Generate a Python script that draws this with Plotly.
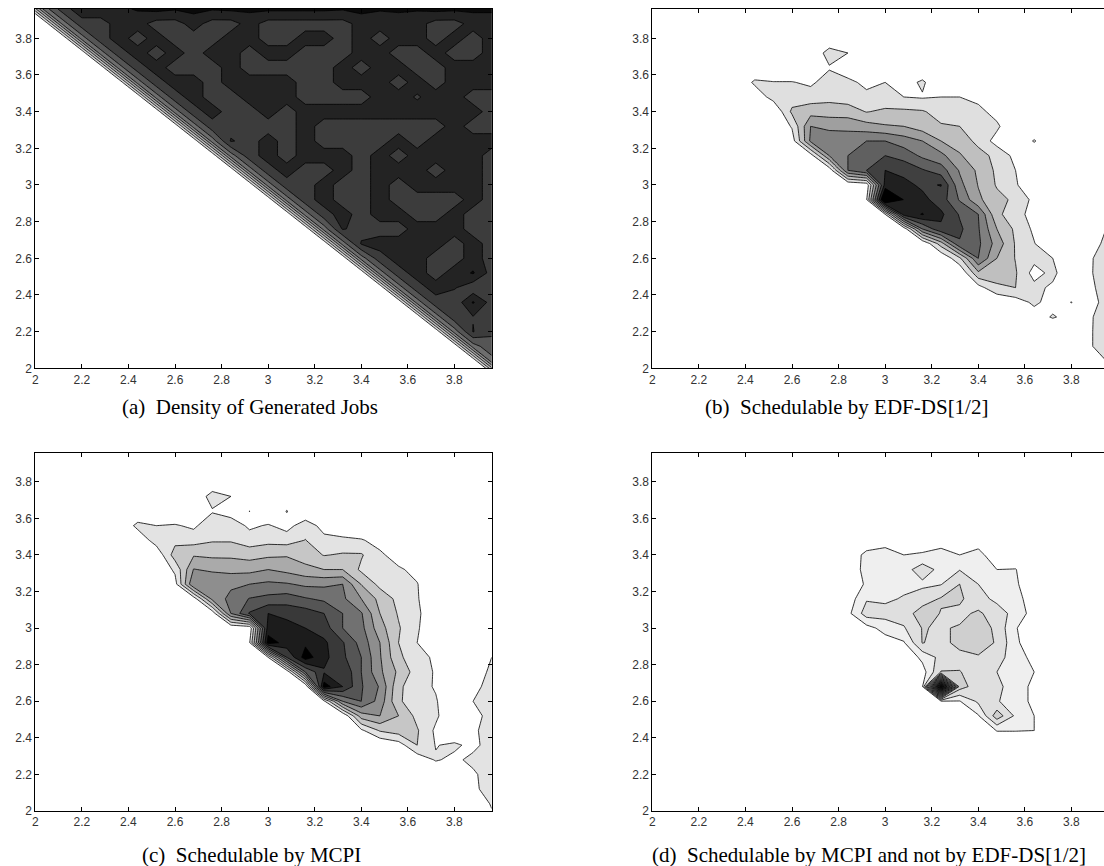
import plotly.graph_objects as go

X_GRID = [1.96, 2.04, 2.12, 2.20, 2.28, 2.36, 2.44, 2.52, 2.60, 2.68, 2.76, 2.84, 2.92,
          3.00, 3.08, 3.16, 3.24, 3.32, 3.40, 3.48, 3.56, 3.64, 3.72, 3.80, 3.88, 3.96]
Y_GRID = list(X_GRID)
TICK_VALUES = [2, 2.2, 2.4, 2.6, 2.8, 3, 3.2, 3.4, 3.6, 3.8]
TICK_LABELS = ["2", "2.2", "2.4", "2.6", "2.8", "3", "3.2", "3.4", "3.6", "3.8"]
CAPTIONS = ["(a)\u00a0 Density of Generated Jobs", "(b)\u00a0 Schedulable by EDF-DS[1/2]",
            "(c)\u00a0 Schedulable by MCPI", "(d)\u00a0 Schedulable by MCPI and not by EDF-DS[1/2]"]

M = 7.6
D = 8.4
# every table is written from y = 3.96 (first row) down to y = 1.96 (last row)
DENSITY = [
 [0,5.5,7.6,8.6,8.6,8.8,9.1,9.3,9.1,9.3,9.1,9.2,9.2,9.2,9.2,9.2,9.2,9.1,9.3,9.1,9.2,9.1,9.3,9.2,9.2,9.2],
 [0,0,5.5,M,M,D,D,M,M,D,M,M,D,M,M,M,M,M,D,D,D,D,M,M,D,D],
 [0,0,0,5.5,M,D,M,D,M,M,M,D,D,M,M,D,D,M,D,M,D,D,M,D,M,D],
 [0,0,0,0,5.5,M,D,M,D,M,D,D,M,D,D,M,M,M,D,D,M,M,D,M,M,D],
 [0,0,0,0,0,5.5,M,D,M,M,M,D,M,M,M,M,M,D,M,D,D,M,M,D,D,8.0],
 [0,0,0,0,0,0,5.5,M,D,D,M,D,D,D,D,M,M,D,D,D,M,D,M,D,D,D],
 [0,0,0,0,0,0,0,5.5,M,D,M,M,D,D,D,M,M,M,M,D,D,7.9,D,D,M,M],
 [0,0,0,0,0,0,0,0,5.5,M,D,M,M,D,M,D,D,D,D,D,D,D,D,D,D,M],
 [0,0,0,0,0,0,0,0,0,5.5,M,M,M,M,M,D,M,M,M,M,M,M,M,D,M,M],
 [0,0,0,0,0,0,0,0,0,0,5.5,8.1,M,D,M,D,M,M,M,M,D,M,D,D,D,D],
 [0,0,0,0,0,0,0,0,0,0,0,5.5,M,D,M,D,D,D,M,D,M,D,D,D,D,M],
 [0,0,0,0,0,0,0,0,0,0,0,0,5.5,M,D,M,M,D,M,D,D,D,M,D,D,M],
 [0,0,0,0,0,0,0,0,0,0,0,0,0,5.5,M,M,D,M,M,D,M,D,D,D,D,M],
 [0,0,0,0,0,0,0,0,0,0,0,0,0,0,5.5,M,D,M,M,D,M,M,M,M,D,M],
 [0,0,0,0,0,0,0,0,0,0,0,0,0,0,0,5.5,M,D,M,D,D,M,M,D,M,M],
 [0,0,0,0,0,0,0,0,0,0,0,0,0,0,0,0,5.5,8.1,M,M,M,D,D,D,M,M],
 [0,0,0,0,0,0,0,0,0,0,0,0,0,0,0,0,0,5.5,8.1,D,D,D,D,M,D,M],
 [0,0,0,0,0,0,0,0,0,0,0,0,0,0,0,0,0,0,5.5,M,D,D,M,M,D,M],
 [0,0,0,0,0,0,0,0,0,0,0,0,0,0,0,0,0,0,0,5.5,M,D,M,D,9.1,M],
 [0,0,0,0,0,0,0,0,0,0,0,0,0,0,0,0,0,0,0,0,5.5,M,D,8.1,7.3,M],
 [0,0,0,0,0,0,0,0,0,0,0,0,0,0,0,0,0,0,0,0,0,5.5,M,7.3,9.1,M],
 [0,0,0,0,0,0,0,0,0,0,0,0,0,0,0,0,0,0,0,0,0,0,5.5,M,7.95,M],
 [0,0,0,0,0,0,0,0,0,0,0,0,0,0,0,0,0,0,0,0,0,0,0,5.5,8.05,7.1],
 [0,0,0,0,0,0,0,0,0,0,0,0,0,0,0,0,0,0,0,0,0,0,0,0,5.5,6.8],
 [0,0,0,0,0,0,0,0,0,0,0,0,0,0,0,0,0,0,0,0,0,0,0,0,0,5.5],
 [0]*26,
]
EDF_DS = [
 [0]*26, [0]*26, [0]*26,
 [0]*10+[1.5,1.0]+[0]*14,
 [0]*10+[.9,.5]+[0]*14,
 [0]*6+[1.2,1.05,1.05,.8,1.5,1.2,.8,1,.5,1.2]+[0]*10,
 [0]*6+[.3,1.4,1.5,1.5,1.7,1.5,1.2,1.3,1,.9,1,1,.7]+[0]*7,
 [0]*8+[2.2,2.6,2.5,2.5,1.95,2.2,2.2,2.1,1.6,1.5,1.3,.6]+[0]*6,
 [0]*8+[1.1,4,3.8,3.7,3.4,3.1,3,2.5,2.1,2,1.6,1.2]+[0]*6,
 [0]*8+[.5,4.2,4.5,4.6,5,5,4.5,4,3,2.6,1.7,.6,0,1.1]+[0]*4,
 [0]*9+[.5,4,5,5.8,6,5.6,4.8,4.3,3.1,2.4,1.7,.7]+[0]*5,
 [0]*10+[.3,5,6,7,6.7,6.1,5.5,3.9,2.8,1.8,1]+[0]*5,
 [0]*12+[.3,7.4,7.3,6.8,7.05,4.3,2.95,1.9,1.1,.3]+[0]*4,
 [0]*12+[.9,10,7.95,7.3,6.5,4.9,3.2,2.3,1.8,.7]+[0]*4,
 [0]*13+[1,7.5,8.05,7.2,5.9,5,2.2,1.5,.5,0,0,.9],
 [0]*14+[.3,5,6.8,6.2,5.1,3,1.8,.8,0,0,.4,1.1],
 [0]*16+[2.5,5.9,5.2,3.6,1.9,1.05,0,0,.6,1.3],
 [0]*17+[1.8,5,3,1.95,1.3,1,0,.9,1.5],
 [0]*18+[2.8,2.5,2.1,.6,1.3,0,.9,1.6],
 [0]*18+[.6,1.8,2,1.3,.8,0,.8,1.5],
 [0]*20+[.5,1.2,.6,1.02,.4,1.7],
 [0]*21+[.5,1.1,.6,.9,1.5],
 [0]*24+[.9,1.6],
 [0]*24+[.9,1.6],
 [0]*24+[.3,1.1],
 [0]*25+[.5],
]
MCPI = [
 [0]*26, [0]*26, [0]*26,
 [0]*10+[1.5,1.0]+[0]*14,
 [0]*10+[.9,.5,1.01,0,1.05]+[0]*11,
 [0]*6+[1.3,1.0,1.1,.8,1.7,1.6,.8,1.1,.6,1.6,.6]+[0]*9,
 [0]*6+[.2,1.5,1.7,1.6,1.9,1.9,1.5,1.7,1.6,2.03,1.3,1.3,1.1,.6]+[0]*6,
 [0]*7+[.2,2.5,2.9,2.8,2.8,2.6,2.8,2.9,2.5,1.95,2.1,2.1,1.2,.5]+[0]*5,
 [0]*8+[1.2,4.05,3.8,3.7,3.7,4.0,3.7,3.3,3,3,1.8,1.4,1.15,.7]+[0]*4,
 [0]*8+[.6,5,5,4.8,5,5.2,5.1,4.8,4.8,5,2.95,1.7,1.4,1.05,0]+[0]*3,
 [0]*9+[.4,4.3,5.3,6.05,6.3,6.5,6.1,5.8,5.2,4,2.7,1.7,1.1,0]+[0]*3,
 [0]*10+[.3,5,7.1,8,7.7,7.5,7,6,5.1,3,1.9,1.2,.2]+[0]*3,
 [0]*12+[.2,8.5,8.4,8,7.5,6,5.3,3.4,2.1,1.1,.3]+[0]*3,
 [0]*12+[.9,9.5,8.6,8.8,8.2,7.1,5.6,4,2,1,.5]+[0]*3,
 [0]*13+[1,7,9.5,8.3,7.2,6,4.1,2.2,1.4,.8,0,0,1.0],
 [0]*14+[.2,6,7.9,7.9,6,4.2,2.8,1.5,.9,0,.2,1.3],
 [0]*16+[9.5,8,6.1,4.9,2.2,1.4,.9,0,.6,1.5],
 [0]*16+[.8,5,6,4.6,2.1,1.6,1.1,0,1,1.8],
 [0]*18+[3.5,4,3,1.7,1.2,0,.6,1.4],
 [0]*18+[.8,2.1,2.5,2.1,.8,0,.8,1.5],
 [0]*20+[.5,2,.95,1.2,.7,1.5],
 [0]*21+[.3,1.1,.75,1.3,1.6],
 [0]*24+[.8,1.6],
 [0]*24+[.8,1.4],
 [0]*24+[.2,1.1],
 [0]*25+[.8],
]
MCPI_ONLY = [
 [0]*26, [0]*26, [0]*26, [0]*26, [0]*26, [0]*26,
 [0]*13+[.4,0,0,.4,0,.3]+[0]*7,
 [0]*12+[1.4,1.6,1,1.2,1.5,1,1.5,0]+[0]*6,
 [0]*12+[1.5,1.6,1.6,2.5,1.7,1.95,1.4,1,1.05,0]+[0]*4,
 [0]*12+[1.2,1.5,1.7,1.8,1.95,3,2,1.5,1.2,0]+[0]*4,
 [0]*11+[.4,1.9,1.8,2.1,2.5,3.1,3.2,2.3,1.8,1.4,.4]+[0]*4,
 [0]*11+[.7,2.5,2.4,2.5,3.5,2.95,2.7,3.2,2.4,1.7,.5]+[0]*4,
 [0]*12+[.6,1.4,1.9,3.05,2.9,3.1,3.7,2.7,1.1,0]+[0]*4,
 [0]*13+[.5,.9,3.05,2.6,3.4,3.5,2.9,1.2,.3]+[0]*4,
 [0]*15+[1.3,2.3,2.6,2.9,2.3,1.6,.6]+[0]*4,
 [0]*15+[.5,3.05,3.05,2.5,2,1.7,1,0]+[0]*3,
 [0]*15+[.9,16,3.5,2.4,2.2,1.6,.7,0]+[0]*3,
 [0]*16+[.9,.95,2.2,2.1,1.4,.8,0]+[0]*3,
 [0]*18+[.9,3.6,1.8,1,0]+[0]*3,
 [0]*19+[1.05,1.05,1,0]+[0]*3,
 [0]*26, [0]*26, [0]*26, [0]*26, [0]*26, [0]*26,
]

W, H = 1110, 866
PANELS = [
    (DENSITY, 35.3, 491.7, 9.0, 368.3, 10, 250, 407),
    (EDF_DS, 652.3, 1108.7, 9.0, 368.3, 8, 846, 407),
    (MCPI, 35.3, 491.7, 452.5, 811.0, 9, 251, 855),
    (MCPI_ONLY, 652.3, 1108.7, 452.5, 811.0, 16, 869, 855),
]
SCALES = [
    [[0, "#ffffff"], [0.1, "rgb(210,210,210)"], [0.9, "rgb(10,10,10)"], [1, "#000000"]],
    None, None, None,
]

fig = go.Figure()
annotations = []
layout = {}
for i, (z, x0, x1, y0, y1, n, cx, cy) in enumerate(PANELS):
    s = "" if i == 0 else str(i + 1)
    fig.add_trace(go.Contour(
        x=X_GRID, y=Y_GRID, z=z[::-1], xaxis="x" + s, yaxis="y" + s,
        contours=dict(start=1, end=n, size=1, coloring="fill", showlines=True),
        line=dict(color="#000000", width=0.8, smoothing=0),
        colorscale=SCALES[i] or [[0, "#ffffff"], [1, "#000000"]],
        zmin=0.5, zmax=n + 0.5, showscale=False, hoverinfo="skip",
    ))
    common = dict(showgrid=False, zeroline=False, showline=True, automargin=False,
                  linecolor="#000000", linewidth=1, mirror="allticks", ticks="inside",
                  ticklen=4, tickcolor="#000000", tickwidth=1, tickmode="array",
                  tickvals=TICK_VALUES, ticktext=TICK_LABELS,
                  tickfont=dict(family="Liberation Sans", size=12, color="#333333"))
    layout["xaxis" + s] = dict(common, range=[2, 3.96], domain=[x0 / W, x1 / W],
                               anchor="y" + s)
    layout["yaxis" + s] = dict(common, range=[2, 3.96], domain=[1 - y1 / H, 1 - y0 / H],
                               anchor="x" + s)
    annotations.append(dict(text=CAPTIONS[i], xref="paper", yref="paper", x=cx / W,
                            y=1 - cy / H, xanchor="center", yanchor="middle", showarrow=False,
                            font=dict(family="Liberation Serif", size=21, color="#000000")))

fig.update_layout(width=W, height=H, margin=dict(l=0, r=0, t=0, b=0), showlegend=False,
                  paper_bgcolor="#ffffff", plot_bgcolor="#ffffff", annotations=annotations,
                  **layout)
fig.write_html("out.html", config={"displayModeBar": False}, post_script=(
    "document.body.style.margin='0';document.body.style.overflow='hidden';"
    "document.documentElement.style.overflow='hidden';"))
